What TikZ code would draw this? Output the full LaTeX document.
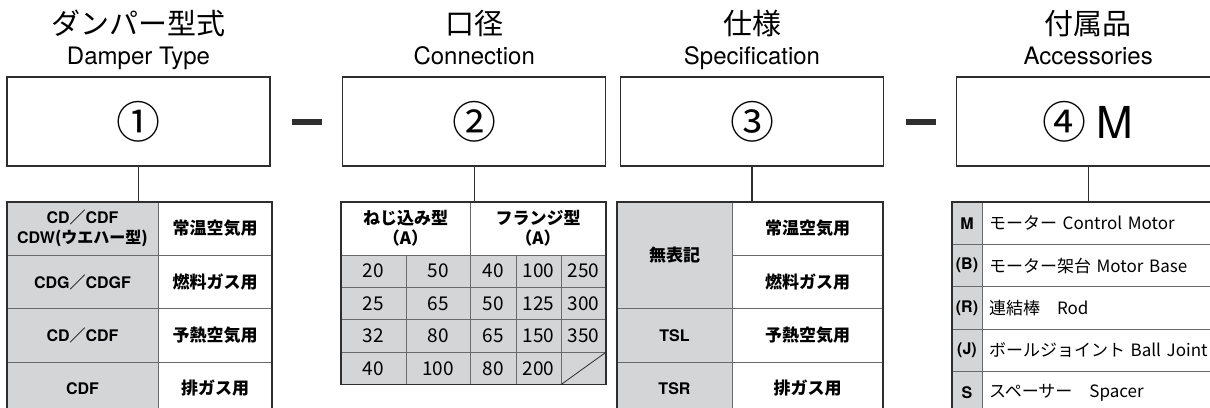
\documentclass[tikz,border=0pt]{standalone}
\usepackage{fontspec}
\setmainfont{TeX Gyre Heros}
\newfontfamily\jp{Noto Sans CJK JP}
\usetikzlibrary{positioning}
\definecolor{linedark}{HTML}{2E2E2E}
\definecolor{gridgray}{HTML}{6A6A6A}
\definecolor{cellgray}{HTML}{D4D5D7}

\tikzset{
  box/.style={draw=linedark, line width=1.3pt, minimum width=263pt, minimum height=89pt, inner sep=0pt, font=\jp\fontsize{44}{44}\selectfont},
  headjp/.style={inner sep=0pt, text height=23pt, text depth=2pt, font=\jp\fontsize{29}{29}\selectfont},
  headen/.style={inner sep=0pt, text height=17.5pt, text depth=5pt, font=\fontsize{24}{24}\selectfont},
  hyphenbar/.style={fill=linedark, minimum width=30pt, minimum height=6pt, inner sep=0pt},
  link/.style={draw=linedark, line width=1.3pt},
  cell/.style={draw=gridgray, line width=0.8pt, inner sep=0pt, outer sep=0pt, align=center, font=\jp\bfseries\fontsize{17}{20}\selectfont},
  gcell/.style={cell, fill=cellgray},
  codecell/.style={gcell, font=\bfseries\fontsize{16}{20}\selectfont},
  numcell/.style={gcell, minimum height=32.4pt, font=\jp\fontsize{19}{19}\selectfont},
  partcell/.style={cell, minimum width=248pt, minimum height=42.4pt, text width=234pt, inner xsep=7pt, align=left, font=\jp\fontsize{17}{18}\selectfont},
  frame/.style={draw=linedark, line width=1.4pt},
}

\begin{document}
\begin{tikzpicture}[x=1pt, y=-1pt]
  \useasboundingbox (0,0) rectangle (1210,407);

  % code boxes
  \node (b1) [box] at (138.5,121.5) {①};
  \node (d1) [hyphenbar, right=21pt of b1] {};
  \node (b2) [box, right=20pt of d1] {②};
  \node (b3) [box, right=13.5pt of b2] {③};
  \node (d2) [hyphenbar, right=21.5pt of b3] {};
  \node (b4) [box, right=20pt of d2] {④ {\rmfamily M}};

  % headings
  \node (h1en) [headen, above=7pt of b1] {Damper Type};
  \node (h1jp) [headjp, above=10pt of h1en] {ダンパー型式};
  \node (h2en) [headen, above=7pt of b2] {Connection};
  \node (h2jp) [headjp, above=10pt of h2en] {口径};
  \node (h3en) [headen, above=7pt of b3] {Specification};
  \node (h3jp) [headjp, above=10pt of h3en] {仕様};
  \node (h4en) [headen, above=7pt of b4] {Accessories};
  \node (h4jp) [headjp, above=10pt of h4en] {付属品};

  % damper type
  \node (t1a1) [codecell, minimum width=151pt, minimum height=53.3pt] at (82.5,228.65) {CD{\jp ／}CDF\\CDW{\jp (ウエハー型)}};
  \node (t1a2) [codecell, minimum width=151pt, minimum height=53.3pt] at (82.5,281.95) {CDG{\jp ／}CDGF};
  \node (t1a3) [codecell, minimum width=151pt, minimum height=53.3pt] at (82.5,335.25) {CD{\jp ／}CDF};
  \node (t1a4) [codecell, minimum width=151pt, minimum height=53.3pt] at (82.5,388.55) {CDF};
  \node (t1b1) [cell, minimum width=114pt, minimum height=53.3pt] at (215,228.65) {常温空気用};
  \node (t1b2) [cell, minimum width=114pt, minimum height=53.3pt] at (215,281.95) {燃料ガス用};
  \node (t1b3) [cell, minimum width=114pt, minimum height=53.3pt] at (215,335.25) {予熱空気用};
  \node (t1b4) [cell, minimum width=114pt, minimum height=53.3pt] at (215,388.55) {排ガス用};
  \draw[frame] (t1a1.north west) rectangle (t1b4.south east);

  % connection
  \node (t2h1) [cell, minimum width=129pt, minimum height=53pt] at (405.5,228.5) {ねじ込み型\\（A）};
  \node (t2h2) [cell, minimum width=136pt, minimum height=53pt] at (538,228.5) {フランジ型\\（A）};
  \node (t2r1a) [numcell, minimum width=65pt] at (373.5,271.2) {20};
  \node (t2r1b) [numcell, minimum width=64pt] at (438,271.2) {50};
  \node (t2r1c) [numcell, minimum width=46pt] at (493,271.2) {40};
  \node (t2r1d) [numcell, minimum width=45pt] at (538.5,271.2) {100};
  \node (t2r1e) [numcell, minimum width=45pt] at (583.5,271.2) {250};
  \node (t2r2a) [numcell, minimum width=65pt] at (373.5,303.6) {25};
  \node (t2r2b) [numcell, minimum width=64pt] at (438,303.6) {65};
  \node (t2r2c) [numcell, minimum width=46pt] at (493,303.6) {50};
  \node (t2r2d) [numcell, minimum width=45pt] at (538.5,303.6) {125};
  \node (t2r2e) [numcell, minimum width=45pt] at (583.5,303.6) {300};
  \node (t2r3a) [numcell, minimum width=65pt] at (373.5,336) {32};
  \node (t2r3b) [numcell, minimum width=64pt] at (438,336) {80};
  \node (t2r3c) [numcell, minimum width=46pt] at (493,336) {65};
  \node (t2r3d) [numcell, minimum width=45pt] at (538.5,336) {150};
  \node (t2r3e) [numcell, minimum width=45pt] at (583.5,336) {350};
  \node (t2r4a) [numcell, minimum width=65pt] at (373.5,368.4) {40};
  \node (t2r4b) [numcell, minimum width=64pt] at (438,368.4) {100};
  \node (t2r4c) [numcell, minimum width=46pt] at (493,368.4) {80};
  \node (t2r4d) [numcell, minimum width=45pt] at (538.5,368.4) {200};
  \node (t2r4e) [numcell, minimum width=45pt] at (583.5,368.4) {};
  \draw[draw=linedark, line width=0.8pt] (t2r4e.south west) -- (t2r4e.north east);
  \draw[frame] (t2h1.north west) rectangle (t2r4e.south east);

  % specification
  \node (t3a1) [gcell, minimum width=115pt, minimum height=106.6pt] at (674.5,255.3) {無表記};
  \node (t3a2) [codecell, minimum width=115pt, minimum height=53.3pt] at (674.5,335.25) {TSL};
  \node (t3a3) [codecell, minimum width=115pt, minimum height=53.3pt] at (674.5,388.55) {TSR};
  \node (t3b1) [cell, minimum width=151pt, minimum height=53.3pt] at (807.5,228.65) {常温空気用};
  \node (t3b2) [cell, minimum width=151pt, minimum height=53.3pt] at (807.5,281.95) {燃料ガス用};
  \node (t3b3) [cell, minimum width=151pt, minimum height=53.3pt] at (807.5,335.25) {予熱空気用};
  \node (t3b4) [cell, minimum width=151pt, minimum height=53.3pt] at (807.5,388.55) {排ガス用};
  \draw[frame] (t3a1.north west) rectangle (t3b4.south east);

  % accessories
  \node (t4a1) [codecell, minimum width=30pt, minimum height=42.4pt] at (967,223.2) {M};
  \node (t4a2) [codecell, minimum width=30pt, minimum height=42.4pt] at (967,265.6) {(B)};
  \node (t4a3) [codecell, minimum width=30pt, minimum height=42.4pt] at (967,308) {(R)};
  \node (t4a4) [codecell, minimum width=30pt, minimum height=42.4pt] at (967,350.4) {(J)};
  \node (t4a5) [codecell, minimum width=30pt, minimum height=42.4pt] at (967,392.8) {S};
  \node (t4b1) [partcell] at (1106,223.2) {モーター Control Motor};
  \node (t4b2) [partcell] at (1106,265.6) {モーター架台 Motor Base};
  \node (t4b3) [partcell] at (1106,308) {連結棒　Rod};
  \node (t4b4) [partcell] at (1106,350.4) {ボールジョイント Ball Joint};
  \node (t4b5) [partcell] at (1106,392.8) {スペーサー　Spacer};
  \draw[frame] (t4a1.north west) rectangle (t4b5.south east);

  % connectors
  \draw[link] (b1.south) -- (b1.south |- t1a1.north);
  \draw[link] (b2.south) -- (b2.south |- t2h1.north);
  \draw[link] (b3.south) -- (b3.south |- t3a1.north);
  \draw[link] (b4.south) -- (b4.south |- t4a1.north);
\end{tikzpicture}
\end{document}
